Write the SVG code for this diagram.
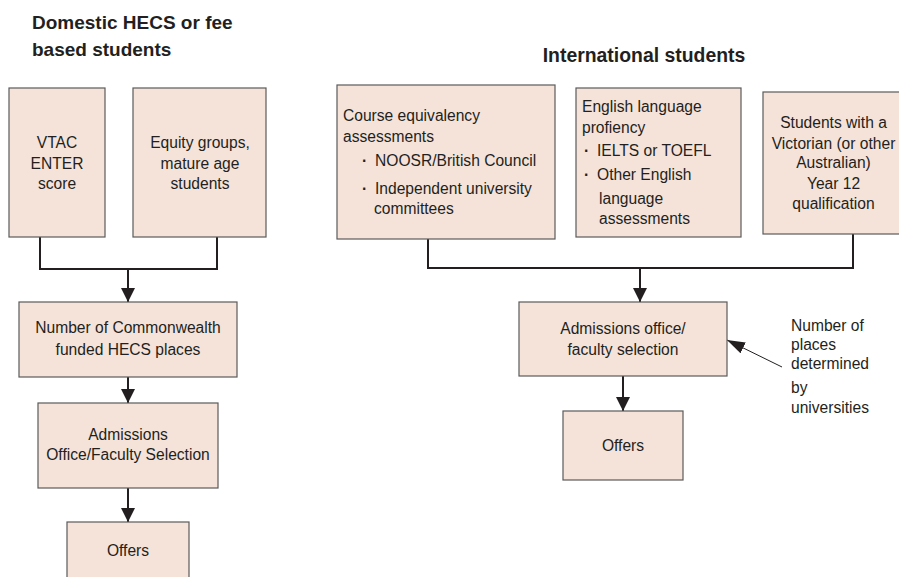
<svg xmlns="http://www.w3.org/2000/svg" width="899" height="577" viewBox="0 0 899 577">
<style>
.box{fill:#f5e3da;stroke:#5a5a5a;stroke-width:1.2}
.t{font-family:"Liberation Sans",Arial,sans-serif;font-size:15.6px;fill:#231f20}
.b{font-weight:bold}
.c{text-anchor:middle}
.h{font-family:"Liberation Sans",Arial,sans-serif;font-size:19px;font-weight:bold;fill:#231f20}
.con{fill:none;stroke:#231f20;stroke-width:2}
.ptr{fill:none;stroke:#231f20;stroke-width:1}
</style>
<defs>
<marker id="ah" markerUnits="userSpaceOnUse" markerWidth="16" markerHeight="16" refX="14" refY="7" orient="auto">
<path d="M0,0 L14,7 L0,14 z" fill="#231f20"/>
</marker>
<marker id="ah2" markerUnits="userSpaceOnUse" markerWidth="20" markerHeight="14" refX="18" refY="6" orient="auto">
<path d="M0,0 L18,6 L0,12 z" fill="#231f20"/>
</marker>
</defs>
<g id="titles">
<text class="h" x="32" y="29">Domestic HECS or fee</text>
<text class="h" x="32" y="56">based students</text>
<text class="h c" x="644" y="62" style="font-size:19.4px">International students</text>
</g>
<g id="connectors">
<polyline class="con" points="40,237 40,269 217,269 217,237"/>
<line class="con" x1="128" y1="269" x2="128" y2="302" marker-end="url(#ah)"/>
<line class="con" x1="128" y1="377" x2="128" y2="403" marker-end="url(#ah)"/>
<line class="con" x1="128" y1="488" x2="128" y2="522" marker-end="url(#ah)"/>
<polyline class="con" points="428,239 428,268 853,268 853,234"/>
<line class="con" x1="640" y1="268" x2="640" y2="302" marker-end="url(#ah)"/>
<line class="con" x1="623" y1="376" x2="623" y2="411" marker-end="url(#ah)"/>
<line class="ptr" x1="782" y1="367" x2="727" y2="340" marker-end="url(#ah2)"/>
</g>
<g id="vtac">
<rect class="box" x="9" y="88" width="96" height="149"/>
<text class="t c" x="57" y="147.5">VTAC</text>
<text class="t c" x="57" y="168.5">ENTER</text>
<text class="t c" x="57" y="188.5">score</text>
</g>
<g id="equity">
<rect class="box" x="133" y="88" width="133" height="149"/>
<text class="t c" x="200" y="147.5">Equity groups,</text>
<text class="t c" x="200" y="168.5">mature age</text>
<text class="t c" x="200" y="188.5">students</text>
</g>
<g id="hecs">
<rect class="box" x="19" y="302" width="218" height="75"/>
<text class="t c" x="128" y="333">Number of Commonwealth</text>
<text class="t c" x="128" y="354.5">funded HECS places</text>
</g>
<g id="admissions-dom">
<rect class="box" x="38" y="403" width="180" height="85"/>
<text class="t c" x="128" y="439.5">Admissions</text>
<text class="t c" x="128" y="460">Office/Faculty Selection</text>
</g>
<g id="offers-dom">
<rect class="box" x="67" y="522" width="122" height="60"/>
<text class="t c" x="128" y="555.5">Offers</text>
</g>
<g id="course">
<rect class="box" x="337" y="85" width="218" height="154"/>
<text class="t" x="343" y="121">Course equivalency</text>
<text class="t" x="343" y="142">assessments</text>
<text class="t b" x="362" y="165.5">·</text>
<text class="t" x="375" y="165.5">NOOSR/British Council</text>
<text class="t b" x="362" y="193.5">·</text>
<text class="t" x="375" y="193.5">Independent university</text>
<text class="t" x="374" y="213.5">committees</text>
</g>
<g id="english">
<rect class="box" x="576" y="88" width="165" height="149"/>
<text class="t" x="582" y="111.5">English language</text>
<text class="t" x="582" y="132.5">profiency</text>
<text class="t b" x="584" y="155.5">·</text>
<text class="t" x="597" y="155.5">IELTS or TOEFL</text>
<text class="t b" x="584" y="179.5">·</text>
<text class="t" x="597" y="179.5">Other English</text>
<text class="t" x="599" y="203.5">language</text>
<text class="t" x="599" y="223.5">assessments</text>
</g>
<g id="victorian">
<rect class="box" x="763" y="92" width="140" height="142"/>
<text class="t c" x="833.5" y="127.5">Students with a</text>
<text class="t c" x="833.5" y="148.5">Victorian (or other</text>
<text class="t c" x="833.5" y="167.5">Australian)</text>
<text class="t c" x="833.5" y="188.5">Year 12</text>
<text class="t c" x="833.5" y="208.5">qualification</text>
</g>
<g id="admissions-int">
<rect class="box" x="519" y="302" width="208" height="74"/>
<text class="t c" x="623" y="333.5">Admissions office/</text>
<text class="t c" x="623" y="354.5">faculty selection</text>
</g>
<g id="offers-int">
<rect class="box" x="563" y="411" width="120" height="69"/>
<text class="t c" x="623" y="450.5">Offers</text>
</g>
<g id="note">
<text class="t" x="791" y="331">Number of</text>
<text class="t" x="791" y="350">places</text>
<text class="t" x="791" y="369">determined</text>
<text class="t" x="791" y="393">by</text>
<text class="t" x="791" y="413">universities</text>
</g>
</svg>
